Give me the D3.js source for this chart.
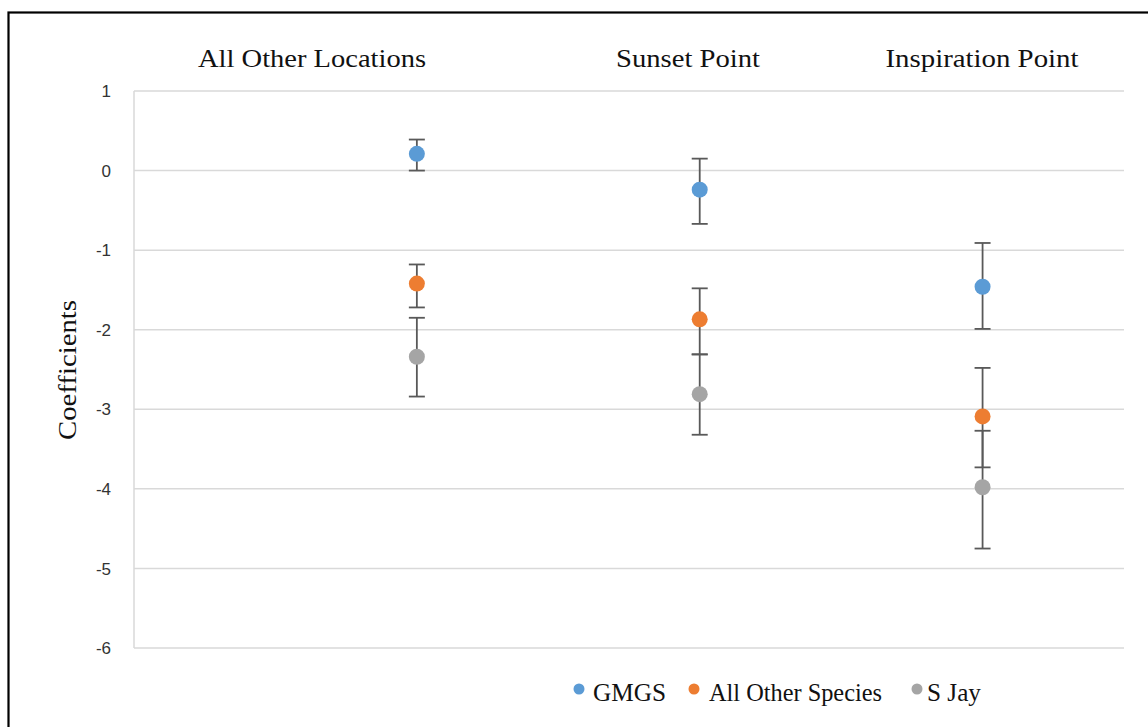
<!DOCTYPE html>
<html>
<head>
<meta charset="utf-8">
<script src="https://cdn.jsdelivr.net/npm/d3@7"></script>
<style>
html,body{margin:0;padding:0;background:#fff;}
svg{display:block;}
</style>
</head>
<body>
<svg id="chart" width="1148" height="727"></svg>
<script>
// ---- data ----
const categories = ["All Other Locations", "Sunset Point", "Inspiration Point"];
const seriesNames = ["GMGS", "All Other Species", "S Jay"];
const gmgsValues = [0.21, -0.24, -1.46];
const gmgsLow    = [0.00, -0.67, -1.99];
const gmgsHigh   = [0.39, 0.15, -0.91];
const otherValues = [-1.42, -1.87, -3.09];
const otherLow    = [-1.72, -2.31, -3.73];
const otherHigh   = [-1.18, -1.48, -2.48];
const sjayValues = [-2.34, -2.81, -3.98];
const sjayLow    = [-2.84, -3.32, -4.75];
const sjayHigh   = [-1.85, -2.31, -3.27];
const yTicks = [1, 0, -1, -2, -3, -4, -5, -6];

// ---- layout ----
const svg = d3.select("#chart");
const colors = ["#5B9BD5", "#ED7D31", "#A5A5A5"];
const plot = {left: 134, right: 1124, top: 91, bottom: 648};
const serif = "'Liberation Serif', 'Times New Roman', serif";

// frame
svg.append("rect").attr("x", 8.5).attr("y", 12.5).attr("width", 1200).attr("height", 800)
  .attr("fill", "none").attr("stroke", "#000").attr("stroke-width", 2.2);

const x = d3.scaleLinear().domain([0, 3.5]).range([plot.left, plot.right]);
const y = d3.scaleLinear().domain([-6, 1]).range([plot.bottom, plot.top]);

// gridlines
svg.append("g").selectAll("line").data(yTicks).join("line")
  .attr("x1", plot.left).attr("x2", plot.right)
  .attr("y1", d => y(d)).attr("y2", d => y(d))
  .attr("stroke", "#d9d9d9").attr("stroke-width", 1.5);
// left axis line
svg.append("line").attr("x1", plot.left).attr("x2", plot.left)
  .attr("y1", y(1)).attr("y2", y(-6)).attr("stroke", "#d9d9d9").attr("stroke-width", 1.5);

// y axis labels
const yAxis = d3.axisLeft(y).tickValues(yTicks).tickSize(0).tickPadding(0).tickFormat(d => String(d));
const ga = svg.append("g").attr("transform", `translate(111,0)`).call(yAxis);
ga.select(".domain").remove();
ga.selectAll("text").attr("font-family", "'Liberation Sans', Arial, sans-serif")
  .attr("font-size", 17).attr("fill", "#333").attr("dy", "0.33em");

// y axis title
svg.append("text").attr("transform", "translate(76,370) rotate(-90)")
  .attr("text-anchor", "middle").attr("font-family", serif)
  .attr("font-size", 25).attr("fill", "#111")
  .attr("textLength", 140).attr("lengthAdjust", "spacingAndGlyphs")
  .text("Coefficients");

// category titles (text boxes)
const titlePos = [{x: 312, w: 228}, {x: 688, w: 144}, {x: 982, w: 193}];
svg.append("g").selectAll("text").data(categories).join("text")
  .attr("x", (d, i) => titlePos[i].x).attr("y", 67)
  .attr("text-anchor", "middle")
  .attr("font-family", serif)
  .attr("font-size", 25).attr("fill", "#111")
  .attr("textLength", (d, i) => titlePos[i].w).attr("lengthAdjust", "spacingAndGlyphs")
  .text(d => d);

// series
const series = [
  {name: seriesNames[0], v: gmgsValues, lo: gmgsLow, hi: gmgsHigh},
  {name: seriesNames[1], v: otherValues, lo: otherLow, hi: otherHigh},
  {name: seriesNames[2], v: sjayValues, lo: sjayLow, hi: sjayHigh}
];

series.forEach((s, si) => {
  const pts = categories.map((c, i) => ({i, v: s.v[i], lo: s.lo[i], hi: s.hi[i]}));
  const g = svg.append("g");
  const eb = g.append("g").attr("stroke", "#595959").attr("stroke-width", 1.8);
  eb.selectAll(".v").data(pts).join("line")
    .attr("x1", d => x(d.i + 1)).attr("x2", d => x(d.i + 1))
    .attr("y1", d => y(d.lo)).attr("y2", d => y(d.hi));
  eb.selectAll(".ch").data(pts).join("line")
    .attr("x1", d => x(d.i + 1) - 8).attr("x2", d => x(d.i + 1) + 8)
    .attr("y1", d => y(d.hi)).attr("y2", d => y(d.hi));
  eb.selectAll(".cl").data(pts).join("line")
    .attr("x1", d => x(d.i + 1) - 8).attr("x2", d => x(d.i + 1) + 8)
    .attr("y1", d => y(d.lo)).attr("y2", d => y(d.lo));
});
series.forEach((s, si) => {
  const pts = categories.map((c, i) => ({i, v: s.v[i]}));
  svg.append("g").selectAll("circle").data(pts).join("circle")
    .attr("cx", d => x(d.i + 1)).attr("cy", d => y(d.v)).attr("r", 8)
    .attr("fill", colors[si]);
});

// legend
const legPos = [{cx: 579, tx: 593, w: 73}, {cx: 694, tx: 709, w: 173}, {cx: 917, tx: 927, w: 54}];
const lg = svg.append("g");
lg.selectAll("circle").data(seriesNames).join("circle")
  .attr("cx", (d, i) => legPos[i].cx).attr("cy", 689).attr("r", 5.5)
  .attr("fill", (d, i) => colors[i]);
lg.selectAll("text").data(seriesNames).join("text")
  .attr("x", (d, i) => legPos[i].tx).attr("y", 701)
  .attr("font-family", serif)
  .attr("font-size", 25).attr("fill", "#111")
  .attr("textLength", (d, i) => legPos[i].w).attr("lengthAdjust", "spacingAndGlyphs")
  .text(d => d);
</script>
</body>
</html>
